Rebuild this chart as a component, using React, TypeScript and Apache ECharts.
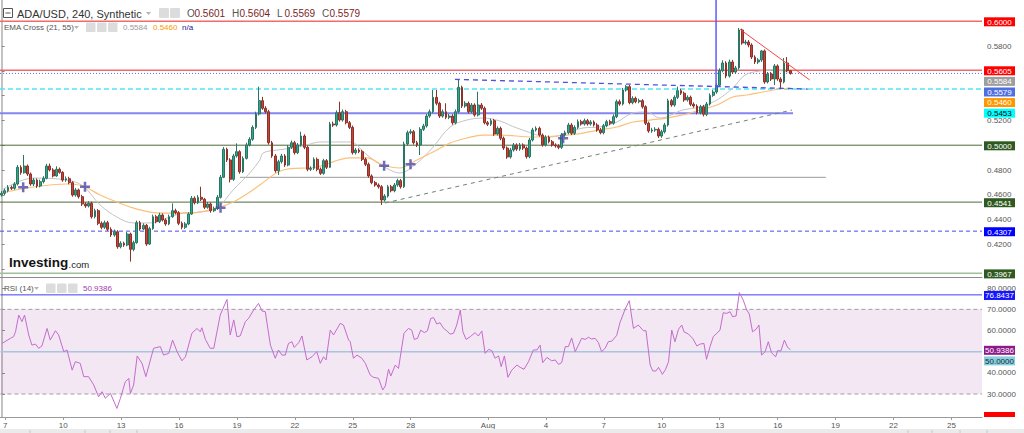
import React, { useEffect, useRef } from "react";
import * as echarts from "echarts";

// ---------- DATA ----------
const SLOT_COUNT = 305; // 4h slots visible on the time axis
const START_UTC = Date.UTC(2022, 6, 6, 20); // first 4h slot
const TICK_DATES = ["2022-07-07","2022-07-10","2022-07-13","2022-07-16","2022-07-19","2022-07-22","2022-07-25","2022-07-28","2022-08-01","2022-08-04","2022-08-07","2022-08-10","2022-08-13","2022-08-16","2022-08-19","2022-08-22","2022-08-25"];
const TICK_LABELS = ["7","10","13","16","19","22","25","28","Aug","4","7","10","13","16","19","22","25"];

const OPEN = [
0.4598,0.4612,0.4633,0.4660,0.4652,0.4687,0.4822,0.4778,0.4832,0.4768,
0.4687,0.4719,0.4671,0.4706,0.4733,0.4832,0.4800,0.4752,0.4806,0.4781,
0.4719,0.4730,0.4698,0.4598,0.4639,0.4585,0.4526,0.4510,0.4531,0.4423,
0.4472,0.4370,0.4338,0.4375,0.4322,0.4276,0.4302,0.4181,0.4209,0.4195,
0.4284,0.4160,0.4214,0.4375,0.4324,0.4354,0.4203,0.4327,0.4423,0.4383,
0.4437,0.4397,0.4365,0.4423,0.4472,0.4456,0.4370,0.4338,0.4365,0.4445,
0.4572,0.4536,0.4580,0.4564,0.4499,0.4526,0.4472,0.4488,0.4580,0.4741,
0.4967,0.4881,0.4725,0.4913,0.4948,0.4786,0.4894,0.5002,0.5048,0.5144,
0.5252,0.5359,0.5298,0.5270,0.5020,0.4913,0.4794,0.4867,0.4913,0.4840,
0.4983,0.5020,0.4940,0.5002,0.5074,0.4983,0.4806,0.4814,0.4886,0.4806,
0.4773,0.4875,0.4822,0.5171,0.5163,0.5262,0.5203,0.5270,0.5181,0.5144,
0.4940,0.4961,0.4948,0.4886,0.4846,0.4752,0.4698,0.4679,0.4665,0.4558,
0.4590,0.4665,0.4633,0.4679,0.4714,0.4665,0.5010,0.5101,0.5109,0.5020,
0.5002,0.5128,0.5155,0.5235,0.5270,0.5386,0.5338,0.5235,0.5270,0.5225,
0.5235,0.5181,0.5270,0.5467,0.5316,0.5338,0.5270,0.5324,0.5244,0.5324,
0.5298,0.5181,0.5169,0.5198,0.5090,0.5136,0.5056,0.4977,0.4905,0.4961,
0.5002,0.4969,0.5002,0.4977,0.4907,0.5042,0.5123,0.5136,0.5082,0.5002,
0.5064,0.5028,0.5002,0.4994,0.4983,0.5082,0.5101,0.5163,0.5096,0.5144,
0.5190,0.5171,0.5198,0.5171,0.5187,0.5163,0.5123,0.5101,0.5157,0.5190,
0.5177,0.5230,0.5351,0.5332,0.5445,0.5472,0.5343,0.5378,0.5351,0.5359,
0.5310,0.5177,0.5115,0.5123,0.5128,0.5074,0.5109,0.5163,0.5359,0.5324,
0.5386,0.5440,0.5419,0.5365,0.5386,0.5330,0.5316,0.5262,0.5310,0.5249,
0.5332,0.5402,0.5429,0.5483,0.5601,0.5663,0.5558,0.5671,0.5590,0.5623,
0.5929,0.5824,0.5832,0.5808,0.5711,0.5671,0.5687,0.5760,0.5510,0.5574,
0.5534,0.5639,0.5534,0.5510,0.5663,0.5601];

const CLOSE = [
0.4612,0.4633,0.4660,0.4652,0.4687,0.4822,0.4778,0.4832,0.4768,0.4687,
0.4719,0.4671,0.4706,0.4733,0.4832,0.4800,0.4752,0.4806,0.4781,0.4719,
0.4730,0.4698,0.4598,0.4639,0.4585,0.4526,0.4510,0.4531,0.4423,0.4472,
0.4370,0.4338,0.4375,0.4322,0.4276,0.4302,0.4181,0.4209,0.4195,0.4284,
0.4160,0.4214,0.4375,0.4324,0.4354,0.4203,0.4327,0.4423,0.4383,0.4437,
0.4397,0.4365,0.4423,0.4472,0.4456,0.4370,0.4338,0.4365,0.4445,0.4572,
0.4536,0.4580,0.4564,0.4499,0.4526,0.4472,0.4488,0.4580,0.4741,0.4967,
0.4881,0.4725,0.4913,0.4948,0.4786,0.4894,0.5002,0.5048,0.5144,0.5252,
0.5359,0.5298,0.5270,0.5020,0.4913,0.4794,0.4867,0.4913,0.4840,0.4983,
0.5020,0.4940,0.5002,0.5074,0.4983,0.4806,0.4814,0.4886,0.4806,0.4773,
0.4875,0.4822,0.5171,0.5163,0.5262,0.5203,0.5270,0.5181,0.5144,0.4940,
0.4961,0.4948,0.4886,0.4846,0.4752,0.4698,0.4679,0.4665,0.4558,0.4590,
0.4665,0.4633,0.4679,0.4714,0.4665,0.5010,0.5101,0.5109,0.5020,0.5002,
0.5128,0.5155,0.5235,0.5270,0.5386,0.5338,0.5235,0.5270,0.5225,0.5235,
0.5181,0.5270,0.5467,0.5316,0.5338,0.5270,0.5324,0.5244,0.5324,0.5298,
0.5181,0.5169,0.5198,0.5090,0.5136,0.5056,0.4977,0.4905,0.4961,0.5002,
0.4969,0.5002,0.4977,0.4907,0.5042,0.5123,0.5136,0.5082,0.5002,0.5064,
0.5028,0.5002,0.4994,0.4983,0.5082,0.5101,0.5163,0.5096,0.5144,0.5190,
0.5171,0.5198,0.5171,0.5187,0.5163,0.5123,0.5101,0.5157,0.5190,0.5177,
0.5230,0.5351,0.5332,0.5445,0.5472,0.5343,0.5378,0.5351,0.5359,0.5310,
0.5177,0.5115,0.5123,0.5128,0.5074,0.5109,0.5163,0.5359,0.5324,0.5386,
0.5440,0.5419,0.5365,0.5386,0.5330,0.5316,0.5262,0.5310,0.5249,0.5332,
0.5402,0.5429,0.5483,0.5601,0.5663,0.5558,0.5671,0.5590,0.5623,0.5929,
0.5824,0.5832,0.5808,0.5711,0.5671,0.5687,0.5760,0.5510,0.5574,0.5534,
0.5639,0.5534,0.5510,0.5663,0.5601,0.5579];

const HIGH = [
0.4630,0.4650,0.4678,0.4675,0.4702,0.4840,0.4838,0.4921,0.4845,0.4780,
0.4735,0.4732,0.4722,0.4750,0.4850,0.4852,0.4815,0.4830,0.4820,0.4790,
0.4748,0.4745,0.4710,0.4655,0.4650,0.4600,0.4540,0.4548,0.4545,0.4488,
0.4485,0.4385,0.4392,0.4390,0.4338,0.4320,0.4315,0.4225,0.4222,0.4300,
0.4295,0.4230,0.4392,0.4390,0.4370,0.4365,0.4342,0.4440,0.4438,0.4455,
0.4450,0.4410,0.4440,0.4531,0.4488,0.4468,0.4385,0.4380,0.4460,0.4590,
0.4588,0.4598,0.4665,0.4575,0.4542,0.4538,0.4505,0.4598,0.4760,0.4985,
0.4980,0.4895,0.4930,0.5015,0.4960,0.4910,0.5020,0.5065,0.5160,0.5270,
0.5472,0.5390,0.5315,0.5285,0.5035,0.4928,0.4882,0.4930,0.4928,0.5000,
0.5038,0.5035,0.5018,0.5109,0.5088,0.4998,0.4830,0.4902,0.4900,0.4820,
0.4890,0.4888,0.5188,0.5190,0.5280,0.5351,0.5288,0.5285,0.5195,0.5158,
0.4978,0.4975,0.4962,0.4900,0.4860,0.4765,0.4712,0.4692,0.4678,0.4605,
0.4680,0.4680,0.4695,0.4730,0.4728,0.5028,0.5118,0.5128,0.5122,0.5035,
0.5145,0.5172,0.5252,0.5288,0.5445,0.5445,0.5350,0.5288,0.5338,0.5252,
0.5250,0.5288,0.5526,0.5480,0.5355,0.5352,0.5340,0.5338,0.5431,0.5340,
0.5312,0.5195,0.5215,0.5212,0.5152,0.5150,0.5070,0.4990,0.4978,0.5018,
0.5015,0.5018,0.5015,0.4990,0.5058,0.5140,0.5152,0.5150,0.5095,0.5080,
0.5078,0.5042,0.5015,0.5008,0.5098,0.5118,0.5180,0.5178,0.5160,0.5208,
0.5205,0.5215,0.5212,0.5202,0.5200,0.5178,0.5138,0.5172,0.5205,0.5205,
0.5248,0.5368,0.5368,0.5462,0.5485,0.5485,0.5395,0.5392,0.5375,0.5372,
0.5322,0.5190,0.5140,0.5145,0.5142,0.5125,0.5180,0.5375,0.5372,0.5402,
0.5472,0.5455,0.5432,0.5402,0.5400,0.5345,0.5330,0.5325,0.5325,0.5348,
0.5418,0.5445,0.5500,0.5620,0.5685,0.5678,0.5690,0.5688,0.5640,0.5945,
0.5940,0.5850,0.5848,0.5822,0.5725,0.5702,0.5768,0.5772,0.5590,0.5590,
0.5655,0.5652,0.5548,0.5703,0.5711,0.5604];

const LOW = [
0.4585,0.4598,0.4620,0.4638,0.4640,0.4675,0.4762,0.4770,0.4752,0.4672,
0.4670,0.4655,0.4660,0.4692,0.4725,0.4788,0.4740,0.4745,0.4770,0.4705,
0.4705,0.4685,0.4585,0.4585,0.4570,0.4510,0.4495,0.4498,0.4408,0.4410,
0.4355,0.4322,0.4325,0.4308,0.4260,0.4262,0.4165,0.4168,0.4180,0.4185,
0.4061,0.4145,0.4205,0.4310,0.4315,0.4188,0.4195,0.4318,0.4370,0.4372,
0.4385,0.4350,0.4355,0.4415,0.4442,0.4355,0.4322,0.4325,0.4355,0.4438,
0.4522,0.4525,0.4550,0.4485,0.4488,0.4455,0.4460,0.4478,0.4570,0.4735,
0.4865,0.4700,0.4712,0.4900,0.4770,0.4775,0.4885,0.4990,0.5035,0.5130,
0.5240,0.5285,0.5255,0.5005,0.4898,0.4778,0.4760,0.4852,0.4825,0.4830,
0.4970,0.4925,0.4928,0.4990,0.4968,0.4790,0.4792,0.4800,0.4790,0.4760,
0.4762,0.4808,0.4815,0.5148,0.5150,0.5190,0.5190,0.5168,0.5130,0.4925,
0.4925,0.4935,0.4872,0.4832,0.4738,0.4685,0.4665,0.4650,0.4518,0.4545,
0.4578,0.4620,0.4620,0.4665,0.4650,0.4655,0.4998,0.5088,0.5005,0.4985,
0.4921,0.5115,0.5142,0.5222,0.5258,0.5322,0.5220,0.5222,0.5210,0.5210,
0.5165,0.5168,0.5258,0.5300,0.5302,0.5255,0.5258,0.5230,0.5232,0.5285,
0.5168,0.5155,0.5155,0.5075,0.5078,0.5040,0.4962,0.4890,0.4892,0.4948,
0.4955,0.4955,0.4962,0.4892,0.4895,0.5030,0.5110,0.5068,0.4988,0.4990,
0.5015,0.4988,0.4980,0.4968,0.4970,0.5068,0.5088,0.5082,0.5082,0.5130,
0.5158,0.5158,0.5158,0.5158,0.5150,0.5108,0.5088,0.5088,0.5145,0.5162,
0.5165,0.5218,0.5318,0.5320,0.5432,0.5330,0.5330,0.5338,0.5338,0.5295,
0.5162,0.5100,0.5100,0.5108,0.5058,0.5060,0.5095,0.5150,0.5310,0.5310,
0.5372,0.5405,0.5350,0.5352,0.5315,0.5302,0.5248,0.5248,0.5232,0.5235,
0.5320,0.5390,0.5415,0.5470,0.5588,0.5540,0.5545,0.5575,0.5575,0.5610,
0.5810,0.5810,0.5790,0.5695,0.5655,0.5655,0.5672,0.5495,0.5498,0.5518,
0.5485,0.5520,0.5453,0.5498,0.5590,0.5569];

// EMA lines (x in bar slots)
const EMA21_X = [0,9.8,20.3,25.3,30.6,35.8,40.8,46.1,51.4,56.3,61.6,66.9,71.9,77.1,80.2,81.2,85.5,90.5,94.8,98.9,108.2,113.5,118.4,123.7,129,134,139.3,144.5,149.5,154.8,160,170.3,180.6,185.8,191.1,196.1,200.4,204.5,211.6,216.9,222.2,227.1,230.9,235.5,240.3,245];
const EMA21_P = [0.4639,0.4735,0.4719,0.4671,0.4518,0.4421,0.4373,0.4373,0.4413,0.4453,0.4461,0.4494,0.4639,0.4776,0.4881,0.4937,0.4961,0.4977,0.5002,0.5026,0.5026,0.4921,0.4832,0.4776,0.4856,0.4985,0.5147,0.5203,0.5219,0.5195,0.5139,0.5066,0.5139,0.5147,0.5187,0.5260,0.5268,0.5219,0.5284,0.5308,0.5365,0.5461,0.5566,0.5598,0.5606,0.5584];
const EMA55_X = [0,9.8,20.3,25.3,30.6,35.8,40.8,46.1,51.4,56.3,61.6,66.9,71.9,77.1,80.2,87.4,97.9,108.2,113.5,118.4,123.7,129,134,139.3,144.5,149.5,154.8,165,175.6,180.6,185.8,191.1,196.1,201.4,206.6,211.6,216.9,222.2,227.1,231.5,236.5,241.7,245];
const EMA55_P = [0.4614,0.4663,0.4687,0.4671,0.4598,0.4542,0.4494,0.4461,0.4453,0.4453,0.4461,0.4494,0.4542,0.4623,0.4679,0.4800,0.4824,0.4897,0.4897,0.4840,0.4816,0.4881,0.4945,0.5018,0.5058,0.5082,0.5082,0.5066,0.5082,0.5098,0.5123,0.5147,0.5187,0.5203,0.5219,0.5244,0.5284,0.5324,0.5389,0.5405,0.5429,0.5453,0.5460];

// EMA cross markers
const CROSS_X = [6.7, 25.9, 68.0, 118.8, 127.0, 174.4];
const CROSS_P = [0.4660, 0.4665, 0.4496, 0.4835, 0.4846, 0.5056];

// Horizontal levels
const LEVEL_PRICE = [0.6000, 0.5605, 0.5579, 0.5453, 0.5257, 0.5000, 0.4741, 0.4541, 0.4307, 0.3967];
const LEVEL_FROM = [-0.5, -0.5, -0.5, -0.5, -0.5, -0.5, 74, -0.5, -0.5, -0.5];
const LEVEL_TO = [304.5, 304.5, 304.5, 304.5, 245.8, 304.5, 256, 304.5, 304.5, 304.5];

// Trend lines [x0, p0, x1, p1]
const TREND_X0 = [140.8, 119.1, 229.3, 221.9];
const TREND_P0 = [0.5531, 0.4534, 0.5935, 0.6171];
const TREND_X1 = [250.4, 245.5, 251.0, 221.9];
const TREND_P1 = [0.5453, 0.5284, 0.5526, 0.5461];

// RSI(14)
const RSI_X = [0,2.6,3.6,4.2,5.2,6.2,7.0,8.3,9.3,10.4,11.4,12.4,14.0,15.0,16.6,17.6,19.2,20.2,21.8,22.8,24.3,25.4,26.9,28.5,30.0,31.1,32.1,33.7,35.7,36.8,38.3,39.4,39.9,40.9,42.0,43.5,44.7,47.1,49.2,50.2,51.8,53.0,54.4,55.9,57.0,59.0,60.6,61.6,62.1,63.2,64.7,65.8,67.8,69.9,70.9,72.0,73.0,74.0,75.6,76.6,78.2,79.7,80.8,81.8,83.4,84.9,85.9,87.0,88.0,89.0,90.1,90.8,92.2,93.2,94.7,96.3,97.8,98.9,99.9,100.7,102.0,103.0,105.1,106.1,107.7,108.2,109.2,110.3,111.8,112.9,114.4,115.4,117.0,118.3,119.1,120.1,120.8,122.2,123.2,124.9,126.3,127.3,128.1,129.1,130.1,131.2,132.2,133.2,134.1,135.1,136.1,137.2,138.2,139.2,140.3,141.3,142.4,143.2,144.2,145.5,147.0,148.0,149.1,150.1,151.2,152.2,153.2,154.3,155.1,156.1,157.2,158.4,160.0,161.0,162.2,163.6,165.1,166.2,167.2,168.0,169.3,170.8,171.9,172.9,173.9,175.0,176.0,177.0,178.1,179.1,180.1,181.2,182.2,183.2,184.3,185.3,186.3,187.4,188.4,189.5,191.0,192.0,193.6,194.9,196.2,197.7,199.3,200.1,201.4,202.2,203.2,204.0,205.2,206.2,207.1,208.1,209.1,210.2,211.2,211.9,213.3,214.6,215.9,216.9,218.1,218.9,220.0,221.0,222.1,223.1,224.1,225.2,226.2,227.0,228.1,229.1,230.3,231.4,232.2,233.2,234.3,235.2,236.0,237.1,238.1,239.1,240.4,241.0,242.0,243.1,244.1,245.0];
const RSI_V = [53.9,56.3,57.1,59.4,67.3,64.2,67.3,57.9,53.1,53.6,51.6,52.7,61.0,55.5,59.9,57.9,50.0,50.8,41.3,45.3,44.5,38.2,38.2,34.3,28.7,31.1,28.0,30.3,23.2,28.0,35.8,37.4,30.3,34.3,48.0,44.5,38.2,51.6,52.4,48.4,49.2,55.5,50.0,45.7,47.6,58.7,61.0,59.4,61.3,55.8,51.6,51.6,67.3,74.7,57.9,65.0,57.1,57.4,64.2,65.7,69.7,72.8,69.2,68.9,53.1,46.9,50.8,48.4,48.4,53.9,54.7,52.0,54.3,57.4,46.1,47.6,50.0,44.5,47.6,46.1,60.2,57.9,63.4,62.6,55.5,54.7,46.9,48.4,46.9,44.5,39.0,37.9,37.4,31.9,33.8,41.7,38.5,43.7,42.1,58.7,61.0,60.2,55.8,56.3,60.2,59.0,59.9,65.7,66.1,63.1,63.7,61.0,59.9,58.3,58.7,62.6,69.7,59.4,55.8,57.1,59.0,57.4,59.8,49.2,51.1,50.5,46.9,48.0,42.9,48.0,37.9,41.3,43.7,42.6,41.7,45.3,50.8,50.8,53.1,44.8,47.3,45.7,46.1,44.0,44.8,52.4,52.4,56.5,50.0,53.1,56.3,55.8,56.8,56.0,56.3,54.3,50.0,51.6,54.7,55.0,57.7,63.7,70.0,74.1,61.0,62.6,59.9,59.9,43.7,40.9,40.9,42.6,39.3,41.7,45.3,60.2,54.7,60.6,62.6,59.4,58.3,56.3,52.7,53.6,53.9,46.4,52.4,57.1,58.7,60.2,68.4,68.1,68.9,66.5,66.9,77.9,74.4,69.7,67.8,59.4,60.6,62.6,48.4,50.0,54.7,49.5,47.6,50.5,50.3,55.5,52.0,50.9386];

const RSI_LEVELS = [76.8437, 70, 50, 30];

// Axis ticks and the labels that are not hidden behind a price tag
const PRICE_TICKS = [0.40, 0.42, 0.44, 0.46, 0.48, 0.50, 0.52, 0.54, 0.56, 0.58, 0.60];
const PRICE_LABELS = [0.42, 0.44, 0.46, 0.48, 0.52, 0.58];
const RSI_TICKS = [30, 40, 50, 60, 70, 80];
const RSI_LABELS = [30, 40, 60, 70, 80];

// Price tags on the right scale
const MAIN_TAG_VALUES = [0.6000, 0.5605, 0.5584, 0.5579, 0.5460, 0.5453, 0.5000, 0.4541, 0.4307, 0.3967];
const RSI_TAG_VALUES = [76.8437, 50.9386, 50.0];

// Header values
const SYMBOL_TITLE = "ADA/USD, 240, Synthetic";
const OHLC_LETTERS = ["O", "H", "L", "C"];
const OHLC_VALUES = ["0.5601", "0.5604", "0.5569", "0.5579"];
const EMA_VALUES = ["0.5584", "0.5460", "n/a"];
const RSI_VALUE = "50.9386";

// ---------- STYLES ----------
const FONT = '"Liberation Sans", Arial, sans-serif';
const LEVEL_STYLE = [
  { color: "#f26b6b", width: 1.5, type: "solid" },
  { color: "#f26b6b", width: 1.5, type: "solid" },
  { color: "#5d6fd6", width: 1, type: [1, 2] },
  { color: "#4ee8f0", width: 1.5, type: [5, 3] },
  { color: "#8585f2", width: 2, type: "solid" },
  { color: "#4d6b3c", width: 1, type: "solid" },
  { color: "#9a9a9a", width: 1, type: "solid" },
  { color: "#4d6b3c", width: 1, type: "solid" },
  { color: "#4848f0", width: 1, type: [4, 3] },
  { color: "#9fc29a", width: 1.5, type: "solid" },
];
const TREND_STYLE = [
  { color: "#5050e0", width: 1.3, type: [5, 4] },
  { color: "#6f846f", width: 1, type: [4, 4] },
  { color: "#f04848", width: 1, type: "solid" },
  { color: "#5b5bff", width: 1.5, type: "solid" },
];
const RSI_LEVEL_STYLE = [
  { color: "#3e3ef5", width: 1, type: "solid" },
  { color: "#a39ca3", width: 1, type: [4, 3] },
  { color: "#a9c4dd", width: 1.5, type: "solid" },
  { color: "#a39ca3", width: 1, type: [4, 3] },
];
const MAIN_TAG_STYLE = [
  { bg: "#ff0000", fg: "#ffffff" },
  { bg: "#ff0000", fg: "#ffffff" },
  { bg: "#9e9e9e", fg: "#ffffff" },
  { bg: "#4f6fe0", fg: "#ffffff" },
  { bg: "#ff9800", fg: "#ffffff" },
  { bg: "#00ffff", fg: "#000000" },
  { bg: "#2f5a1f", fg: "#ffffff" },
  { bg: "#2f5a1f", fg: "#ffffff" },
  { bg: "#0000ff", fg: "#ffffff" },
  { bg: "#2f5a1f", fg: "#ffffff" },
];
const RSI_TAG_STYLE = [
  { bg: "#1414ff", fg: "#ffffff" },
  { bg: "#8b1a8b", fg: "#ffffff" },
  { bg: "#87cede", fg: "#1a2a33" },
];

export default function App() {
  const ref = useRef<HTMLDivElement>(null);

  useEffect(() => {
    const chart = echarts.init(ref.current as HTMLDivElement, null, { renderer: "svg" });
    const HOUR4 = 4 * 3600 * 1000;
    const categories = Array.from({ length: SLOT_COUNT }, (_, i) =>
      new Date(START_UTC + i * HOUR4).toISOString().slice(0, 16)
    );
    const tickMap = new Map<number, string>();
    TICK_DATES.forEach((d, k) => {
      const idx = Math.round((Date.parse(d + "T00:00:00Z") - START_UTC) / HOUR4);
      tickMap.set(idx, TICK_LABELS[k]);
    });

    const candleData = CLOSE.map((c, i) => [OPEN[i], c, LOW[i], HIGH[i]]);
    const lineBase = { type: "line", symbol: "none", silent: true, animation: false };

    const series: any[] = [];
    LEVEL_PRICE.forEach((p, k) => {
      series.push({
        ...lineBase, xAxisIndex: 2, yAxisIndex: 0, z: 1,
        data: [[LEVEL_FROM[k], p], [LEVEL_TO[k], p]],
        lineStyle: LEVEL_STYLE[k],
      });
    });
    TREND_X0.forEach((x0, k) => {
      series.push({
        ...lineBase, xAxisIndex: 2, yAxisIndex: 0, z: 4,
        data: [[x0, TREND_P0[k]], [TREND_X1[k], TREND_P1[k]]],
        lineStyle: TREND_STYLE[k],
      });
    });
    series.push({
      ...lineBase, xAxisIndex: 2, yAxisIndex: 0, z: 2, smooth: 0.35,
      data: EMA21_X.map((x, i) => [x, EMA21_P[i]]),
      lineStyle: { color: "#c4c4c4", width: 1 },
    });
    series.push({
      ...lineBase, xAxisIndex: 2, yAxisIndex: 0, z: 2, smooth: 0.35,
      data: EMA55_X.map((x, i) => [x, EMA55_P[i]]),
      lineStyle: { color: "#fcc07a", width: 1.2 },
    });
    series.push({
      type: "candlestick", xAxisIndex: 0, yAxisIndex: 0, z: 3,
      data: candleData, barWidth: "72%", silent: true,
      itemStyle: {
        color: "#32a68b", color0: "#c2463b",
        borderColor: "#2b7564", borderColor0: "#8e3129", borderWidth: 1,
      },
    });
    series.push({
      type: "scatter", xAxisIndex: 2, yAxisIndex: 0, z: 5, silent: true,
      symbol: "path://M3,0H5V3H8V5H5V8H3V5H0V3H3Z", symbolSize: 10,
      itemStyle: { color: "#4c48a8" },
      data: CROSS_X.map((x, i) => [x, CROSS_P[i]]),
    });
    RSI_LEVELS.forEach((v, k) => {
      series.push({
        ...lineBase, xAxisIndex: 3, yAxisIndex: 1, z: 1,
        data: [[-0.5, v], [304.5, v]],
        lineStyle: RSI_LEVEL_STYLE[k],
      });
    });
    series.push({
      ...lineBase, xAxisIndex: 3, yAxisIndex: 1, z: 3,
      data: RSI_X.map((x, i) => [x, RSI_V[i]]),
      lineStyle: { color: "#c46ccc", width: 1 },
      markArea: {
        silent: true,
        itemStyle: { color: "rgba(150,60,160,0.12)" },
        data: [[{ yAxis: 70 }, { yAxis: 30 }]],
      },
    });

    const yAxisCommon = {
      position: "right",
      axisLine: { show: true, lineStyle: { color: "#c2c2c2", width: 2 } },
      splitLine: { show: false },
    };

    chart.setOption({
      animation: false,
      backgroundColor: "#ffffff",
      grid: [
        { left: 0, top: 0, width: 982, height: 277 },
        { left: 0, top: 278, width: 982, height: 139 },
      ],
      xAxis: [
        {
          type: "category", gridIndex: 0, data: categories, boundaryGap: true, position: "bottom",
          axisLine: { show: true, lineStyle: { color: "#8c8c8c", width: 1 } },
          axisTick: { show: false }, axisLabel: { show: false }, splitLine: { show: false },
        },
        {
          type: "category", gridIndex: 1, data: categories, boundaryGap: true, position: "bottom",
          axisLine: { show: true, lineStyle: { color: "#9a9a9a", width: 1 } },
          axisTick: {
            show: true, alignWithLabel: true, length: 3,
            interval: (i: number) => tickMap.has(i),
            lineStyle: { color: "#9a9a9a" },
          },
          axisLabel: {
            show: true, interval: (i: number) => tickMap.has(i),
            formatter: (_v: string, i: number) => tickMap.get(i) ?? "",
            color: "#555", fontSize: 8, fontFamily: FONT, margin: 4,
          },
          splitLine: { show: false },
        },
        { type: "value", gridIndex: 0, min: -0.5, max: 304.5, show: false },
        { type: "value", gridIndex: 1, min: -0.5, max: 304.5, show: false },
      ],
      yAxis: [
        {
          ...yAxisCommon, type: "value", gridIndex: 0, min: 0.39371, max: 0.6171,
          axisTick: { show: true, length: 3, customValues: PRICE_TICKS, lineStyle: { color: "#888" } },
          axisLabel: {
            show: true, customValues: PRICE_LABELS, formatter: (v: number) => v.toFixed(4),
            color: "#555", fontSize: 8, fontFamily: FONT, margin: 5,
          },
        },
        {
          ...yAxisCommon, type: "value", gridIndex: 1, min: 19.15, max: 84.81,
          axisTick: { show: true, length: 3, customValues: RSI_TICKS, lineStyle: { color: "#888" } },
          axisLabel: {
            show: true, customValues: RSI_LABELS, formatter: (v: number) => v.toFixed(4),
            color: "#555", fontSize: 8, fontFamily: FONT, margin: 5,
          },
        },
      ],
      series,
    });

    // ---- graphics: header, logo, right-side tags ----
    const g: any[] = [];
    const txt = (x: number, y: number, text: string, fill: string, size: number, weight = "normal", align = "left") => ({
      type: "text", x, y, z: 100, silent: true,
      style: { text, fill, font: `${weight} ${size}px ${FONT}`, align, verticalAlign: "middle", textVerticalAlign: "middle" },
    });
    const icon = (x: number, y: number, s: number) => ({
      type: "rect", z: 100, silent: true, shape: { x, y, width: s, height: s, r: 1 }, style: { fill: "#dcdcdc" },
    });
    const caret = (x: number, y: number) => ({
      type: "polygon", z: 100, silent: true,
      shape: { points: [[x, y], [x + 5, y], [x + 2.5, y + 3]] }, style: { fill: "#b5b5b5" },
    });

    // Row 1
    g.push({ type: "rect", z: 100, silent: true, shape: { x: 3.5, y: 8.5, width: 9, height: 9 }, style: { fill: "#fff", stroke: "#555", lineWidth: 1 } });
    g.push({ type: "line", z: 101, silent: true, shape: { x1: 5.5, y1: 13, x2: 10.5, y2: 13 }, style: { stroke: "#555", lineWidth: 1 } });
    g.push(txt(17, 13.5, SYMBOL_TITLE, "#333", 11));
    g.push(caret(146, 12));
    g.push(icon(159, 8, 10));
    g.push(icon(170, 8, 10));
    const ohlcX = [187, 232, 277, 322];
    OHLC_LETTERS.forEach((l, k) => {
      g.push(txt(ohlcX[k], 13.5, l, "#555", 10));
      g.push(txt(ohlcX[k] + 7.5, 13.5, OHLC_VALUES[k], "#7b1f1f", 10));
    });
    // Row 2
    g.push(txt(4, 27, "EMA Cross (21, 55)", "#555", 8));
    g.push(caret(74, 26));
    g.push(icon(86, 22.5, 9.5));
    g.push(icon(97, 22.5, 9.5));
    g.push(icon(108, 22.5, 9.5));
    g.push(txt(123, 27, EMA_VALUES[0], "#9a9a9a", 8));
    g.push(txt(153, 27, EMA_VALUES[1], "#ff9800", 8));
    g.push(txt(182, 27, EMA_VALUES[2], "#22229a", 8));
    // RSI header
    g.push(txt(4, 288, "RSI (14)", "#555", 8));
    g.push(caret(34, 287));
    g.push(icon(46, 283.5, 9.5));
    g.push(icon(57, 283.5, 9.5));
    g.push(icon(68, 283.5, 9.5));
    g.push(txt(83, 288, RSI_VALUE, "#a13ca8", 8));
    // Logo
    g.push(txt(9, 262, "Investing", "#141414", 13.5, "bold"));
    g.push(txt(68.5, 264, ".com", "#222", 9.5));
    // Bottom strip
    g.push({ type: "rect", z: 100, silent: true, shape: { x: 0, y: 429, width: 1024, height: 4 }, style: { fill: "#ebebeb" } });
    [30, 85, 110, 137, 908, 932, 960, 987].forEach((x) =>
      g.push({ type: "line", z: 101, silent: true, shape: { x1: x, y1: 430, x2: x, y2: 433 }, style: { stroke: "#c8c8c8", lineWidth: 1 } })
    );

    // Tags, placed through the axis scales, stacked to avoid overlap
    const placeTags = (values: number[], styles: any[], yAxisIndex: number) => {
      const items = values.map((v, k) => ({
        v, k, y: chart.convertToPixel({ yAxisIndex } as any, v) as number,
      }));
      items.sort((a, b) => a.y - b.y);
      let prev = -1e9;
      items.forEach((it) => {
        const y = Math.max(it.y + 0.6, prev + 10.6);
        prev = y;
        const st = styles[it.k];
        g.push({ type: "rect", z: 110, silent: true, shape: { x: 984, y: y - 4.5, width: 31, height: 9 }, style: { fill: st.bg } });
        g.push({ ...txt(999.5, y + 0.3, it.v.toFixed(4), st.fg, 8, "normal", "center"), z: 111 });
      });
    };
    placeTags(MAIN_TAG_VALUES, MAIN_TAG_STYLE, 0);
    placeTags(RSI_TAG_VALUES, RSI_TAG_STYLE, 1);
    // clipped red tag at the bottom of the RSI scale
    g.push({ type: "rect", z: 110, silent: true, shape: { x: 984, y: 412, width: 31, height: 5 }, style: { fill: "#ff0000" } });

    chart.setOption({ graphic: g });

    return () => chart.dispose();
  }, []);

  return (
    <div
      ref={ref}
      style={{ position: "fixed", left: 0, top: 0, width: 1024, height: 433, background: "#fff" }}
    />
  );
}
